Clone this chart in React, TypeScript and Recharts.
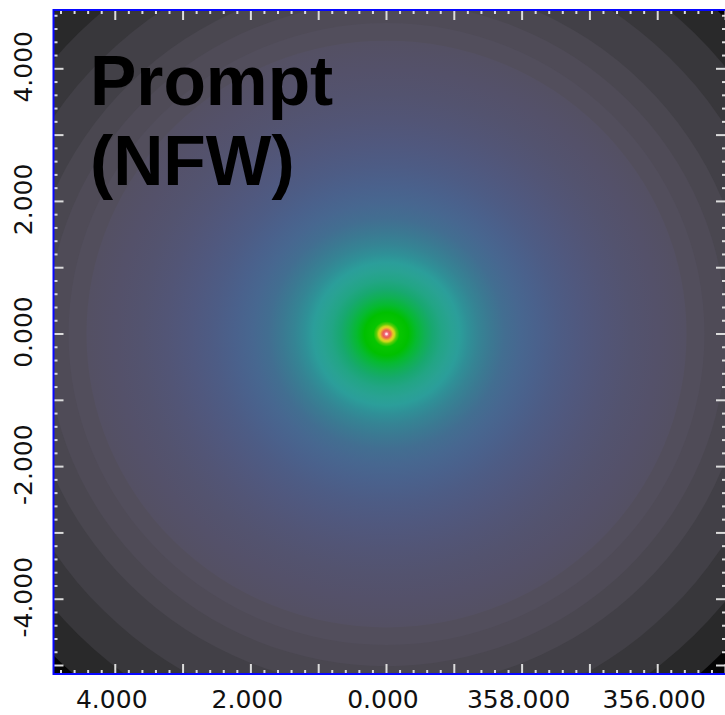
import React from "react";
import { ScatterChart, Scatter, XAxis, YAxis, ZAxis, Cell } from "recharts";

// Sky window in degrees; longitude increases to the left.
const lonRange: [number, number] = [-5.007, 4.911];
const latRange: [number, number] = [-5.128, 4.887];

// Tick marks every 0.2 deg, labels every 2 deg.
const tickValues = Array.from({ length: 50 }, (_, i) => (i - 25) / 5);
const labelledTicks = [4, 2, 0, -2, -4];

// Outer contour bands (outer radius, deg), largest first.
const bandRadius = [7.45, 6.9, 6.42, 5.9, 5.35, 5.01, 4.69];
const bandColors = ["#050505", "#29292a", "#38373b", "#424047", "#4a4750", "#4f4b57", "#524e5c"];

// Smooth inner profile of the NFW template (radius, deg).
const coreRadius = [
  0, 0.015, 0.03, 0.052, 0.074, 0.096, 0.118, 0.147, 0.192, 0.324, 0.442, 0.56, 0.678, 0.811,
  0.959, 1.077, 1.209, 1.357, 1.534, 1.74, 1.976, 2.242, 2.537, 2.876, 3.245, 3.614, 3.982, 4.425,
];
const coreColors = [
  "#ffffff", "#ffd0d8", "#f07080", "#e85a55", "#ee8a3a", "#e8c828", "#c8d818", "#60cc08",
  "#08c600", "#00c000", "#06ba30", "#10b054", "#18a870", "#22a585", "#29a293", "#2b9e9a",
  "#2f9097", "#358494", "#3b7992", "#426e91", "#476790", "#4a618c", "#4d5c85", "#50587e",
  "#525576", "#53536f", "#54516a", "#545063",
];

const W = 740;
const H = 715;
// each axis takes 1px, so the plot spans x 53.5..726, y 10..674
const M = { top: 9, right: 13, bottom: 40, left: 52.5 };
const PLOT = { x: M.left + 1, y: M.top + 1, w: W - M.left - M.right - 2, h: H - M.top - M.bottom - 2 };
const PPD_X = PLOT.w / (lonRange[1] - lonRange[0]);
const PPD_Y = PLOT.h / (latRange[1] - latRange[0]);
const ASPECT = PPD_Y / PPD_X;

const R_MAX = bandRadius[0];
const CORE_R = coreRadius[coreRadius.length - 1];

const rings = [
  ...bandRadius.map((r) => ({ lon: 0, lat: 0, r2: r * r, core: false })),
  { lon: 0, lat: 0, r2: CORE_R * CORE_R, core: true },
];
const ringFills = [...bandColors, "url(#nfwCore)"];

const TICK = "#dcdcdc";
const FRAME = "#0808ff";
const isMajor = (v: number) => Math.abs(v - Math.round(v)) < 1e-6;
const lonLabel = (v: number) => (v < 0 ? v + 360 : v).toFixed(3);
const labelStyle = { fontFamily: "DejaVu Sans", fontSize: 25, fill: "#111" };

function RingShape(props: any) {
  const { cx, cy, width, size, fill, payload } = props;
  const rx = width != null ? width / 2 : Math.sqrt(size / Math.PI);
  return (
    <g>
      {payload?.core && (
        <defs>
          <radialGradient id="nfwCore" cx="50%" cy="50%" r="50%">
            {coreRadius.map((r, i) => (
              <stop key={i} offset={r / CORE_R} stopColor={coreColors[i]} />
            ))}
          </radialGradient>
        </defs>
      )}
      <ellipse cx={cx} cy={cy} rx={rx} ry={rx * ASPECT} fill={fill} />
    </g>
  );
}

function BottomTick({ x, y, payload }: any) {
  const v = payload.value;
  const len = isMajor(v) ? 10 : 4;
  return (
    <g>
      <line x1={x} y1={y} x2={x} y2={y - len} stroke={TICK} strokeWidth={2} />
      {labelledTicks.includes(v) && (
        <text x={x - 3.5} y={y + 34} textAnchor="middle" {...labelStyle}>
          {lonLabel(v)}
        </text>
      )}
    </g>
  );
}

function TopTick({ x, y, payload }: any) {
  const len = isMajor(payload.value) ? 10 : 4;
  return <line x1={x} y1={y} x2={x} y2={y + len} stroke={TICK} strokeWidth={2} />;
}

function LeftTick({ x, y, payload }: any) {
  const v = payload.value;
  const len = isMajor(v) ? 10 : 4;
  const ly = y - 2;
  return (
    <g>
      <line x1={x} y1={y} x2={x + len} y2={y} stroke={TICK} strokeWidth={2} />
      {labelledTicks.includes(v) && (
        <text
          x={24}
          y={ly}
          textAnchor="middle"
          dominantBaseline="central"
          transform={`rotate(-90, 24, ${ly})`}
          {...labelStyle}
        >
          {v.toFixed(3)}
        </text>
      )}
    </g>
  );
}

function RightTick({ x, y, payload }: any) {
  const len = isMajor(payload.value) ? 10 : 4;
  return <line x1={x} y1={y} x2={x - len} y2={y} stroke={TICK} strokeWidth={2} />;
}

export default function App() {
  const shared = {
    type: "number" as const,
    allowDataOverflow: true,
    ticks: tickValues,
    interval: 0,
    tickSize: 0,
    tickMargin: 0,
    tickLine: false,
    axisLine: false,
  };
  return (
    <div
      style={{
        position: "fixed",
        left: 0,
        top: 0,
        width: 725,
        height: 715,
        overflow: "hidden",
        background: "#fff",
      }}
    >
      <ScatterChart width={W} height={H} margin={M}>
        <Scatter
          data={rings}
          xAxisId="bottom"
          yAxisId="left"
          shape={RingShape}
          isAnimationActive={false}
        >
          {rings.map((_, i) => (
            <Cell key={i} fill={ringFills[i]} />
          ))}
        </Scatter>
        <ZAxis
          dataKey="r2"
          type="number"
          domain={[0, R_MAX * R_MAX]}
          range={[0, Math.PI * (R_MAX * PPD_X) ** 2]}
        />
        <XAxis xAxisId="bottom" dataKey="lon" domain={lonRange} reversed height={1} tick={BottomTick} {...shared} />
        <XAxis
          xAxisId="top"
          orientation="top"
          dataKey="lon"
          domain={lonRange}
          reversed
          height={1}
          tick={TopTick}
          {...shared}
        />
        <YAxis yAxisId="left" dataKey="lat" domain={latRange} width={1} tick={LeftTick} {...shared} />
        <YAxis
          yAxisId="right"
          orientation="right"
          dataKey="lat"
          domain={latRange}
          width={1}
          tick={RightTick}
          {...shared}
        />
      </ScatterChart>
      <svg
        width={725}
        height={715}
        style={{ position: "absolute", left: 0, top: 0, pointerEvents: "none" }}
      >
        {/* plot frame */}
        <rect x={PLOT.x} y={PLOT.y} width={PLOT.w} height={PLOT.h} fill="none" stroke={FRAME} strokeWidth={2} />
        <text fontFamily="Liberation Sans" fontWeight="bold" fontSize={69.5} fill="#000">
          <tspan x={90} y={105}>
            Prompt
          </tspan>
          <tspan x={90} y={185}>
            (NFW)
          </tspan>
        </text>
      </svg>
    </div>
  );
}
